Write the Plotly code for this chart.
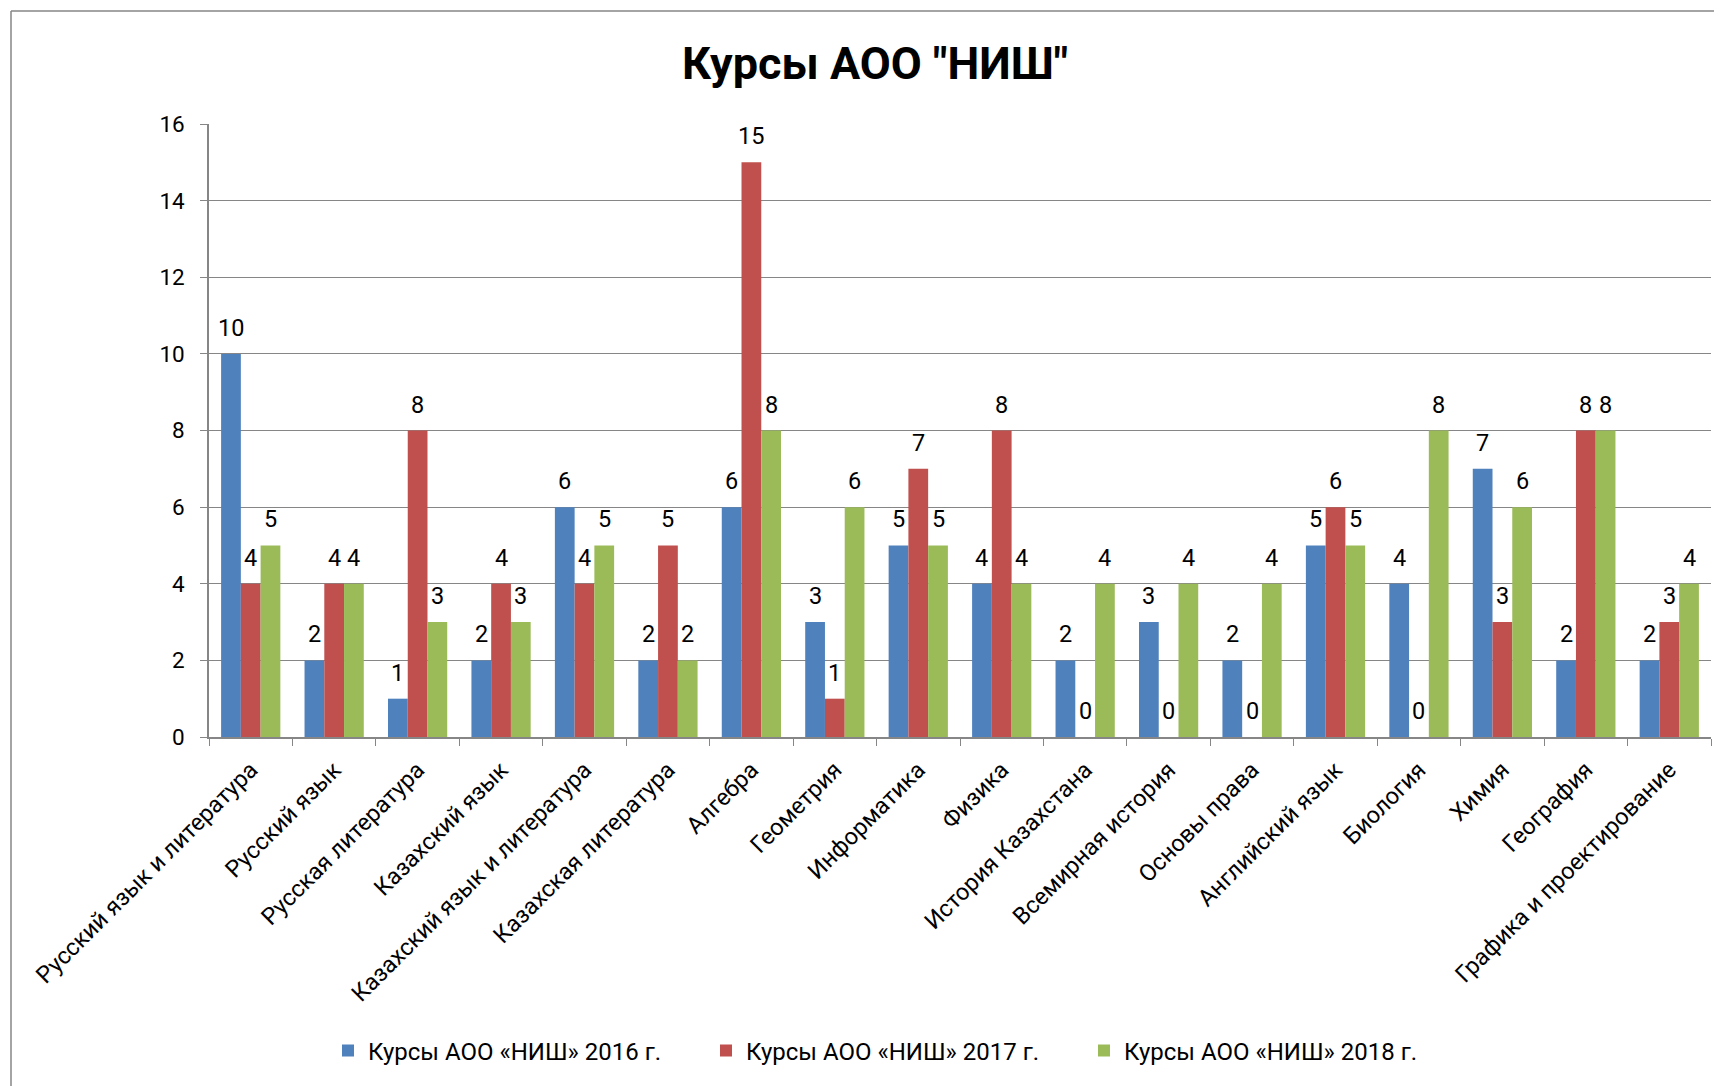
import plotly.graph_objects as go

categories = [
    "Русский язык и литература", "Русский язык", "Русская литература",
    "Казахский язык", "Казахский язык и литература", "Казахская литература",
    "Алгебра", "Геометрия", "Информатика", "Физика", "История Казахстана",
    "Всемирная история", "Основы права", "Английский язык", "Биология",
    "Химия", "География", "Графика и проектирование",
]
series_names = ["Курсы АОО «НИШ» 2016 г.", "Курсы АОО «НИШ» 2017 г.", "Курсы АОО «НИШ» 2018 г."]
values_2016 = [10, 2, 1, 2, 6, 2, 6, 3, 5, 4, 2, 3, 2, 5, 4, 7, 2, 2]
values_2017 = [4, 4, 8, 4, 4, 5, 15, 1, 7, 8, 0, 0, 0, 6, 0, 3, 8, 3]
values_2018 = [5, 4, 3, 3, 5, 2, 8, 6, 5, 4, 4, 4, 4, 5, 8, 6, 8, 4]
y_ticks = [0, 2, 4, 6, 8, 10, 12, 14, 16]

colors = ["#4F81BD", "#C0504D", "#9BBB59"]
FONT = "Roboto"

W, H = 1722, 1086
ML, MR, MT, MB = 201, 19, 116, 357
BARGAP = 0.29
plot_w = W - ML - MR
plot_h = H - MT - MB
cat_w = plot_w / len(categories)
bar_w = cat_w * (1 - BARGAP) / 3

fig = go.Figure()
all_vals = [values_2016, values_2017, values_2018]
for name, vals, col in zip(series_names, all_vals, colors):
    fig.add_trace(go.Bar(
        x=categories, y=vals, name=name,
        marker=dict(color=col, line=dict(width=0)),
    ))

annotations = []
for si, vals in enumerate(all_vals):
    for c, v in zip(categories, vals):
        annotations.append(dict(
            x=c, y=v, xref="x", yref="y", text=str(v), showarrow=False,
            xshift=(si - 1) * bar_w, yshift=26, yanchor="middle", xanchor="center",
            font=dict(family=FONT, size=23.5, color="black"),
        ))

fig.update_layout(
    width=W, height=H,
    margin=dict(l=ML, r=MR, t=MT, b=MB),
    paper_bgcolor="white", plot_bgcolor="white",
    barmode="group", bargap=BARGAP, bargroupgap=0,
    title=dict(text="<b>Курсы АОО \"НИШ\"</b>", x=(867 / W), xanchor="center",
               y=1 - 55 / H, yanchor="middle", yref="container",
               font=dict(family=FONT, size=45, color="black")),
    font=dict(family=FONT, size=22, color="black"),
    showlegend=True,
    legend=dict(orientation="h", x=(320 - ML) / plot_w, xanchor="left", y=1 - 1043 / H,
                yref="container", yanchor="middle",
                font=dict(family=FONT, size=24, color="black"),
                itemwidth=30, traceorder="normal", entrywidth=333),
    annotations=annotations,
)
fig.update_xaxes(
    type="category", tickangle=-45, tickson="boundaries", ticks="outside",
    ticklen=7, tickcolor="#868686", showline=True, linecolor="#868686", linewidth=1.5,
    tickfont=dict(family=FONT, size=23.5, color="black"), showgrid=False,
    ticklabelstandoff=8,
)
fig.update_yaxes(
    range=[0, 16], tickvals=y_ticks, ticks="outside", ticklen=7, tickcolor="#868686",
    showline=True, linecolor="#868686", linewidth=1.5,
    showgrid=True, gridcolor="#868686", gridwidth=1.2, zeroline=False,
    tickfont=dict(family=FONT, size=22.5, color="black"), ticklabelstandoff=11,
)
border_y = (H - MB - 3) / plot_h
border_x = (3 - ML) / plot_w
fig.add_shape(type="line", xref="paper", yref="paper", x0=border_x, x1=1.2,
              y0=border_y, y1=border_y, line=dict(color="#868686", width=1.5))
fig.add_shape(type="line", xref="paper", yref="paper", x0=border_x, x1=border_x,
              y0=border_y, y1=-1.0, line=dict(color="#868686", width=1.5))

fig.write_html("out.html")
